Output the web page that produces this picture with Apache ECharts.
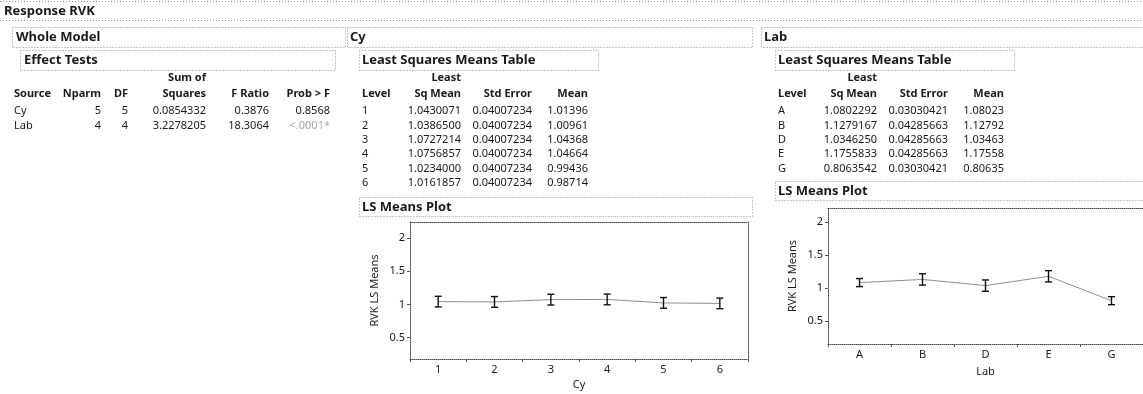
<!DOCTYPE html>
<html>
<head>
<meta charset="utf-8">
<title>Response RVK</title>
<script src="https://cdn.jsdelivr.net/npm/echarts@6/dist/echarts.min.js"></script>
<style>
  html, body { margin: 0; padding: 0; background: #fff; }
  #chart { width: 1143px; height: 394px; }
</style>
</head>
<body>
<div id="chart"></div>
<script>
// Effect Tests
const effectSources = ['Cy', 'Lab']
const effectNparm = [5, 4]
const effectDF = [5, 4]
const effectSS = ['0.0854332', '3.2278205']
const effectF = ['0.3876', '18.3064']
const effectP = ['0.8568', '<.0001*']

// Cy least squares means
const cyLevels = ['1', '2', '3', '4', '5', '6']
const cyLsMean = [1.0430071, 1.0386500, 1.0727214, 1.0756857, 1.0234000, 1.0161857]
const cyStdErr = [0.04007234, 0.04007234, 0.04007234, 0.04007234, 0.04007234, 0.04007234]
const cyMean = [1.01396, 1.00961, 1.04368, 1.04664, 0.99436, 0.98714]
const cyLower = [0.963, 0.958, 0.992, 0.995, 0.943, 0.936]
const cyUpper = [1.123, 1.119, 1.153, 1.156, 1.104, 1.096]

// Lab least squares means
const labLevels = ['A', 'B', 'D', 'E', 'G']
const labLsMean = [1.0802292, 1.1279167, 1.0346250, 1.1755833, 0.8063542]
const labStdErr = [0.03030421, 0.04285663, 0.04285663, 0.04285663, 0.03030421]
const labMean = [1.08023, 1.12792, 1.03463, 1.17558, 0.80635]
const labLower = [1.019, 1.042, 0.949, 1.090, 0.745]
const labUpper = [1.141, 1.214, 1.120, 1.261, 0.867]

const yTicks = [0.5, 1, 1.5, 2]

const FONT = '"Noto Sans", "Open Sans", sans-serif'
const INK = '#1a1a1a'
const DOT = '#8c8c8c'
const ROW_H = 14.4

const graphics = []

function txt(text, x, y, opts = {}) {
  graphics.push({
    type: 'text',
    x, y,
    silent: true,
    style: {
      text,
      font: `${opts.bold ? 'bold ' : ''}${opts.size || 11}px ${FONT}`,
      fill: opts.color || INK,
      align: opts.align || 'left',
      verticalAlign: 'middle',
    },
  })
}

function box(x1, y1, x2, y2) {
  graphics.push({
    type: 'rect',
    silent: true,
    shape: { x: x1 + 0.5, y: y1 + 0.5, width: x2 - x1, height: y2 - y1 },
    style: { fill: 'none', stroke: DOT, lineWidth: 1, lineDash: [1, 2] },
  })
}

function hline(x1, x2, y) {
  graphics.push({
    type: 'line',
    silent: true,
    shape: { x1, y1: y + 0.5, x2, y2: y + 0.5 },
    style: { stroke: DOT, lineWidth: 1, lineDash: [1, 2] },
  })
}

// outline headers
hline(0, 1143, 1)
hline(0, 1143, 20)
txt('Response RVK', 4, 11, { bold: true, size: 13 })
box(12, 27, 345, 47)
txt('Whole Model', 16, 37, { bold: true, size: 13 })
box(347, 27, 752, 47)
txt('Cy', 350, 37, { bold: true, size: 13 })
box(761, 27, 1150, 47)
txt('Lab', 764, 37, { bold: true, size: 13 })

// Effect Tests table
box(20, 50, 335, 70)
txt('Effect Tests', 24, 60, { bold: true, size: 13 })
const etRight = [101, 128, 206, 269, 330]
txt('Sum of', etRight[2], 78, { bold: true, align: 'right' })
txt('Source', 14, 94, { bold: true })
;['Nparm', 'DF', 'Squares', 'F Ratio', 'Prob > F'].forEach((h, i) => {
  txt(h, etRight[i], 94, { bold: true, align: 'right' })
})
effectSources.forEach((s, r) => {
  const y = 111 + r * ROW_H
  txt(s, 14, y)
  txt(String(effectNparm[r]), etRight[0], y, { align: 'right' })
  txt(String(effectDF[r]), etRight[1], y, { align: 'right' })
  txt(effectSS[r], etRight[2], y, { align: 'right' })
  txt(effectF[r], etRight[3], y, { align: 'right' })
  txt(effectP[r], etRight[4], y, { align: 'right', color: r === 1 ? '#a8a8a8' : INK })
})

// least squares means tables
function lsTable(left, levels, lsMean, stdErr, mean) {
  box(left - 3, 50, left + 236, 70)
  txt('Least Squares Means Table', left, 60, { bold: true, size: 13 })
  const cols = [left + 99, left + 170, left + 226]
  txt('Least', cols[0], 78, { bold: true, align: 'right' })
  txt('Level', left, 94, { bold: true })
  txt('Sq Mean', cols[0], 94, { bold: true, align: 'right' })
  txt('Std Error', cols[1], 94, { bold: true, align: 'right' })
  txt('Mean', cols[2], 94, { bold: true, align: 'right' })
  levels.forEach((lv, r) => {
    const y = 111 + r * ROW_H
    txt(lv, left, y)
    txt(lsMean[r].toFixed(7), cols[0], y, { align: 'right' })
    txt(stdErr[r].toFixed(8), cols[1], y, { align: 'right' })
    txt(mean[r].toFixed(5), cols[2], y, { align: 'right' })
  })
}
lsTable(362, cyLevels, cyLsMean, cyStdErr, cyMean)
lsTable(778, labLevels, labLsMean, labStdErr, labMean)

box(359, 197, 752, 216)
txt('LS Means Plot', 362, 207, { bold: true, size: 13 })
box(775, 181, 1150, 200)
txt('LS Means Plot', 778, 191, { bold: true, size: 13 })

function errorBarItem(params, api) {
  const x = api.value(0)
  const lo = api.coord([x, api.value(1)])
  const hi = api.coord([x, api.value(2)])
  const half = 3.5
  const style = { stroke: '#111', lineWidth: 1.4 }
  return {
    type: 'group',
    children: [
      { type: 'line', shape: { x1: lo[0], y1: lo[1], x2: hi[0], y2: hi[1] }, style },
      { type: 'line', shape: { x1: lo[0] - half, y1: lo[1], x2: lo[0] + half, y2: lo[1] }, style },
      { type: 'line', shape: { x1: hi[0] - half, y1: hi[1], x2: hi[0] + half, y2: hi[1] }, style },
    ],
  }
}

const frameLine = { show: true, lineStyle: { color: '#4a4a4a', width: 1, type: 'dotted' } }
const labelStyle = { color: INK, fontSize: 11, fontFamily: FONT }

function bottomAxis(gridIndex, cats, name, nameGap) {
  return {
    type: 'category',
    gridIndex,
    data: cats,
    name,
    nameLocation: 'middle',
    nameGap,
    nameTextStyle: labelStyle,
    axisLine: frameLine,
    axisTick: { show: true, length: 3, lineStyle: { color: '#555' } },
    axisLabel: { ...labelStyle, margin: 5 },
  }
}

function topAxis(gridIndex, cats) {
  return {
    type: 'category',
    gridIndex,
    data: cats,
    position: 'top',
    axisLine: frameLine,
    axisTick: { show: false },
    axisLabel: { show: false },
  }
}

function leftAxis(gridIndex, min, max) {
  return {
    type: 'value',
    gridIndex,
    min,
    max,
    name: 'RVK LS Means',
    nameLocation: 'middle',
    nameGap: 30,
    nameTextStyle: labelStyle,
    axisLine: frameLine,
    axisTick: { show: true, length: 3, customValues: yTicks, lineStyle: { color: '#555' } },
    axisLabel: { ...labelStyle, margin: 5, customValues: yTicks },
    splitLine: { show: false },
  }
}

function rightAxis(gridIndex, min, max) {
  return {
    type: 'value',
    gridIndex,
    min,
    max,
    position: 'right',
    axisLine: frameLine,
    axisTick: { show: false },
    axisLabel: { show: false },
    splitLine: { show: false },
  }
}

const meansLine = {
  type: 'line',
  symbol: 'none',
  silent: true,
  lineStyle: { color: '#8f8f8f', width: 1 },
  z: 2,
}

const chart = echarts.init(document.getElementById('chart'), null, { renderer: 'canvas' })

chart.setOption({
  animation: false,
  backgroundColor: '#fff',
  textStyle: { fontFamily: FONT },
  graphic: graphics,
  grid: [
    { left: 410, top: 222, width: 338, height: 137 },
    { left: 828, top: 208, width: 320, height: 136 },
  ],
  xAxis: [
    bottomAxis(0, cyLevels, 'Cy', 20),
    topAxis(0, cyLevels),
    bottomAxis(1, labLevels, 'Lab', 22),
    topAxis(1, labLevels),
  ],
  yAxis: [
    leftAxis(0, 0.18, 2.24),
    rightAxis(0, 0.18, 2.24),
    leftAxis(1, 0.15, 2.21),
  ],
  series: [
    { ...meansLine, xAxisIndex: 0, yAxisIndex: 0, data: cyLsMean },
    {
      type: 'custom',
      xAxisIndex: 0,
      yAxisIndex: 0,
      renderItem: errorBarItem,
      data: cyLevels.map((_, i) => [i, cyLower[i], cyUpper[i]]),
      z: 3,
    },
    { ...meansLine, xAxisIndex: 2, yAxisIndex: 2, data: labLsMean },
    {
      type: 'custom',
      xAxisIndex: 2,
      yAxisIndex: 2,
      renderItem: errorBarItem,
      data: labLevels.map((_, i) => [i, labLower[i], labUpper[i]]),
      z: 3,
    },
  ],
})
</script>
</body>
</html>
